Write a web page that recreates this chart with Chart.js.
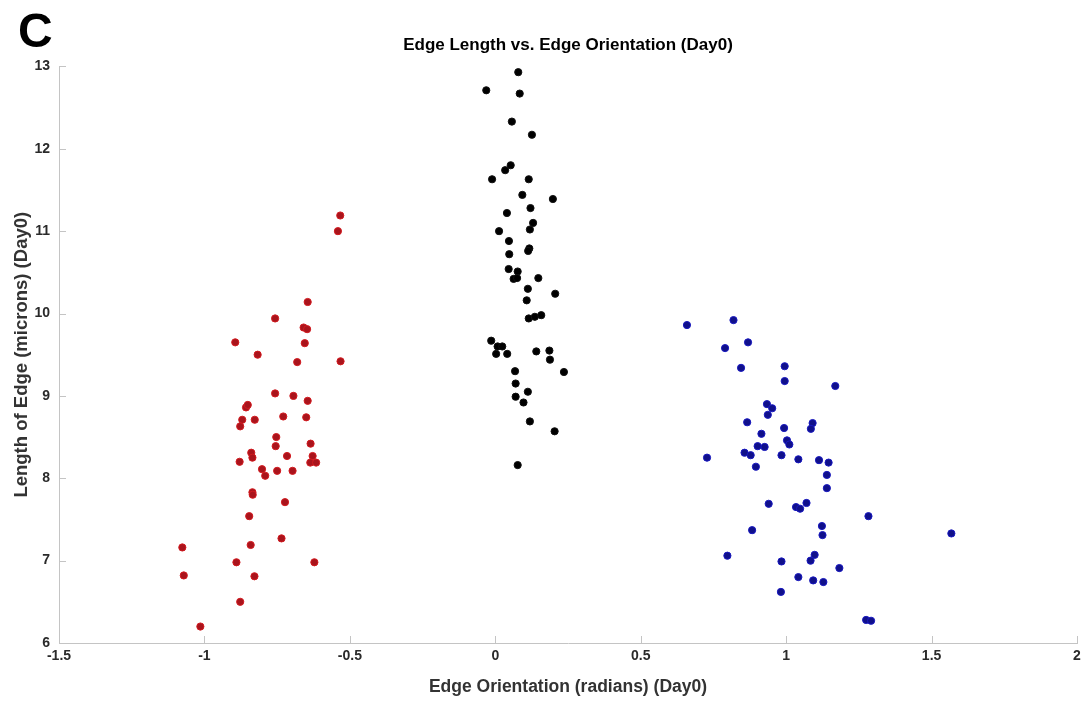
<!DOCTYPE html>
<html>
<head>
<meta charset="utf-8">
<script src="https://cdn.jsdelivr.net/npm/chart.js@4/dist/chart.umd.min.js"></script>
<style>
  html, body { margin: 0; padding: 0; background: #fff; }
  #wrap { position: relative; width: 1089px; height: 702px; }
  #panel { position: absolute; left: 18px; top: 3px; font: bold 48px "Liberation Sans", Arial, sans-serif; color: #000; }
</style>
</head>
<body>
<div id="wrap">
  <canvas id="edge-chart" width="1089" height="702"></canvas>
  <div id="panel">C</div>
</div>
<script>
// Edge orientation (radians) and edge length (microns), Day0, three clusters
const redX = [-0.533, -0.541, -0.645, -0.757, -0.659, -0.647, -0.894, -0.655, -0.817, -0.681, -0.532, -0.757,
  -0.694, -0.645, -0.857, -0.851, -0.870, -0.827, -0.877, -0.729, -0.650, -0.753, -0.755, -0.635, -0.839,
  -0.835, -0.716, -0.628, -0.879, -0.636, -0.616, -0.802, -0.750, -0.697, -0.791, -0.835, -0.834, -0.723,
  -0.846, -0.735, -1.076, -0.841, -0.890, -0.622, -1.071, -0.828, -0.877, -1.014];
const redY = [11.19, 11.00, 10.14, 9.94, 9.83, 9.81, 9.65, 9.64, 9.50, 9.41, 9.42, 9.03,
  9.00, 8.94, 8.86, 8.89, 8.71, 8.71, 8.63, 8.75, 8.74, 8.50, 8.39, 8.42, 8.31,
  8.25, 8.27, 8.27, 8.20, 8.19, 8.19, 8.11, 8.09, 8.09, 8.03, 7.83, 7.80, 7.71,
  7.54, 7.27, 7.16, 7.19, 6.98, 6.98, 6.82, 6.81, 6.50, 6.20];

const blackX = [0.079, -0.031, 0.084, 0.057, 0.126, 0.053, 0.034, -0.011, 0.115, 0.093, 0.198, 0.121,
  0.040, 0.130, 0.119, 0.013, 0.047, 0.117, 0.113, 0.048, 0.046, 0.077, 0.063, 0.075, 0.148, 0.112,
  0.206, 0.108, 0.115, 0.136, 0.158, -0.014, 0.008, 0.024, 0.003, 0.041, 0.141, 0.186, 0.188, 0.236,
  0.068, 0.070, 0.070, 0.112, 0.097, 0.119, 0.204, 0.077];
const blackY = [12.93, 12.71, 12.67, 12.33, 12.17, 11.80, 11.74, 11.63, 11.63, 11.44, 11.39, 11.28,
  11.22, 11.10, 11.02, 11.00, 10.88, 10.79, 10.76, 10.72, 10.54, 10.51, 10.42, 10.43, 10.43, 10.30,
  10.24, 10.16, 9.94, 9.96, 9.98, 9.67, 9.60, 9.60, 9.51, 9.51, 9.54, 9.55, 9.44, 9.29,
  9.30, 9.15, 8.99, 9.05, 8.92, 8.69, 8.57, 8.16];

const blueX = [0.659, 0.819, 0.790, 0.869, 0.845, 0.995, 0.995, 1.169, 0.934, 0.952, 0.937, 0.866,
  1.091, 1.085, 0.993, 0.915, 0.902, 0.926, 1.003, 1.011, 0.728, 0.857, 0.878, 0.984, 0.896, 1.042,
  1.113, 1.146, 1.140, 1.140, 0.940, 1.034, 1.048, 1.070, 1.283, 1.568, 1.123, 1.125, 0.984, 1.098,
  1.084, 1.183, 1.042, 1.093, 1.128, 0.982, 1.275, 1.292, 0.883, 0.798];
const blueY = [9.86, 9.92, 9.58, 9.65, 9.34, 9.36, 9.18, 9.12, 8.90, 8.85, 8.77, 8.68,
  8.67, 8.60, 8.61, 8.54, 8.39, 8.38, 8.46, 8.41, 8.25, 8.31, 8.28, 8.28, 8.14, 8.23,
  8.22, 8.19, 8.04, 7.88, 7.69, 7.65, 7.63, 7.70, 7.54, 7.33, 7.42, 7.31, 6.99, 7.07,
  7.00, 6.91, 6.80, 6.76, 6.74, 6.62, 6.28, 6.27, 7.37, 7.06];

const xTicks = [-1.5, -1, -0.5, 0, 0.5, 1, 1.5, 2];
const yTicks = [6, 7, 8, 9, 10, 11, 12, 13];

const toPoints = (xs, ys) => xs.map((x, i) => ({ x: x, y: ys[i] }));

const font = '"Liberation Sans", Arial, sans-serif';
const axisGrey = '#c4c4c4';

// small tick marks pointing into the plot area
const innerTicks = {
  id: 'innerTicks',
  afterDraw(chart) {
    const { ctx, chartArea, scales } = chart;
    ctx.save();
    ctx.strokeStyle = axisGrey;
    ctx.lineWidth = 1;
    ctx.beginPath();
    xTicks.forEach(v => {
      const px = Math.round(scales.x.getPixelForValue(v)) + 0.5;
      ctx.moveTo(px, chartArea.bottom);
      ctx.lineTo(px, chartArea.bottom - 7);
    });
    yTicks.forEach(v => {
      const py = Math.round(scales.y.getPixelForValue(v)) + 0.5;
      ctx.moveTo(chartArea.left, py);
      ctx.lineTo(chartArea.left + 7, py);
    });
    ctx.stroke();
    ctx.restore();
  }
};

const dot = (fill, edge) => ({
  pointRadius: 3.6,
  pointHoverRadius: 3.6,
  pointBackgroundColor: fill,
  pointBorderColor: edge,
  pointBorderWidth: 1,
  showLine: false
});

new Chart(document.getElementById('edge-chart'), {
  type: 'scatter',
  data: {
    datasets: [
      Object.assign({ label: 'negative', data: toPoints(redX, redY) }, dot('#a9141c', '#d21a1f')),
      Object.assign({ label: 'zero', data: toPoints(blackX, blackY) }, dot('#000000', '#111111')),
      Object.assign({ label: 'positive', data: toPoints(blueX, blueY) }, dot('#10108a', '#1818c0'))
    ]
  },
  options: {
    responsive: false,
    animation: false,
    events: [],
    layout: { padding: { left: 0, right: 12, top: 0, bottom: 0 } },
    plugins: {
      legend: { display: false },
      tooltip: { enabled: false },
      title: {
        display: true,
        fullSize: false,
        text: 'Edge Length vs. Edge Orientation (Day0)',
        color: '#000',
        font: { family: font, size: 17, weight: 'bold', lineHeight: 1.2 },
        padding: { top: 35, bottom: 11 }
      }
    },
    scales: {
      x: {
        type: 'linear',
        min: -1.5,
        max: 2,
        afterFit: s => { s.height = 59; },
        afterBuildTicks: s => { s.ticks = xTicks.map(v => ({ value: v })); },
        grid: { display: false, drawTicks: false },
        border: { display: true, color: axisGrey, width: 1 },
        ticks: {
          color: '#2a2a2a',
          padding: 5,
          maxRotation: 0,
          font: { family: font, size: 14, weight: 'bold' },
          callback: v => String(v)
        },
        title: {
          display: true,
          text: 'Edge Orientation (radians) (Day0)',
          color: '#333',
          font: { family: font, size: 17.5, weight: 'bold' },
          padding: { top: 4, bottom: 4 }
        }
      },
      y: {
        type: 'linear',
        min: 6,
        max: 13,
        afterFit: s => { s.width = 59; },
        afterBuildTicks: s => { s.ticks = yTicks.map(v => ({ value: v })); },
        grid: { display: false, drawTicks: false },
        border: { display: true, color: axisGrey, width: 1 },
        ticks: {
          color: '#2a2a2a',
          padding: 9,
          font: { family: font, size: 14, weight: 'bold' },
          callback: v => String(v)
        },
        title: {
          display: true,
          text: 'Length of Edge (microns) (Day0)',
          color: '#333',
          font: { family: font, size: 18.5, weight: 'bold' },
          padding: { top: 11, bottom: 4 }
        }
      }
    }
  },
  plugins: [innerTicks]
});
</script>
</body>
</html>
